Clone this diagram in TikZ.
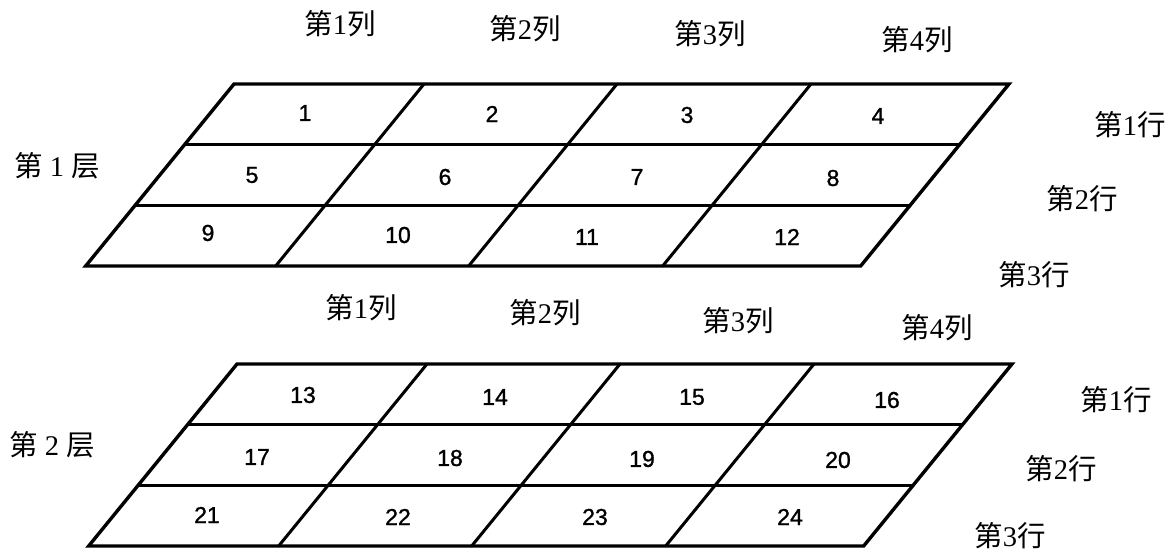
\documentclass[tikz,border=0pt]{standalone}
\usepackage{fontspec}
\setmainfont{Liberation Serif}
\newfontfamily\cjk{Noto Sans CJK SC}
\newfontfamily\numfont[FakeBold=1.2]{Liberation Sans}
\begin{document}
\begin{tikzpicture}[x=1pt,y=-1pt,
  gridline/.style={line width=3pt,line cap=round,line join=round},
  outline/.style={line width=3.4pt,line join=miter},
  num/.style={font=\numfont\fontsize{23}{26}\selectfont,inner sep=0pt},
  lbl/.style={font=\fontsize{28.5}{32}\selectfont,inner sep=0pt}]
\useasboundingbox (0,0) rectangle (1176,554);
% ---------- grids ----------
\foreach \T/\L in {84/234, 364/237}{
  \pgfmathsetmacro\s{-0.815}
  \foreach \yy in {60.5,121}{
    \draw[gridline] ({\L+\s*\yy},{\T+\yy}) -- ({\L+\s*\yy+775},{\T+\yy});
  }
  \foreach \c in {190,383,577}{
    \draw[gridline] ({\L+\c},\T) -- ({\L+\c+\s*182},{\T+182});
  }
  \draw[outline] (\L,\T) -- ({\L+775},\T) -- ({\L+775+\s*182},{\T+182}) -- ({\L+\s*182},{\T+182}) -- cycle;
}
% ---------- numbers ----------
\foreach \n/\x/\y in {1/305/113,2/492/114,3/687/115,4/878/116,
  5/252/175,6/445/177,7/637/177,8/833/178,
  9/208/233,10/398/235,11/587/237,12/787/237,
  13/303/395,14/495/397,15/692/397,16/887/400,
  17/257/457,18/450/458,19/642/459,20/838/460,
  21/207/515,22/398/517,23/595/517,24/790/517}{
  \node[num] (n\n) at (\x,\y) {\n};
}
% ---------- column labels ----------
\foreach \k/\x/\y in {1/340/24,2/525/29,3/710/34,4/917/40}{
  \node[lbl] (ca\k) at (\x,\y) {{\cjk 第}\k{\cjk 列}};
}
\foreach \k/\x/\y in {1/361/308,2/545/313,3/738/321,4/937/328}{
  \node[lbl] (cb\k) at (\x,\y) {{\cjk 第}\k{\cjk 列}};
}
% ---------- row labels ----------
\foreach \k/\x/\y in {1/1130/125,2/1082/199,3/1034/275}{
  \node[lbl] (ra\k) at (\x,\y) {{\cjk 第}\k{\cjk 行}};
}
\foreach \k/\x/\y in {1/1116/400,2/1061/469,3/1010/536}{
  \node[lbl] (rb\k) at (\x,\y) {{\cjk 第}\k{\cjk 行}};
}
% ---------- layer labels ----------
\node[lbl] (layer1) at (57,166) {{\cjk 第} 1 {\cjk 层}};
\node[lbl] (layer2) at (52,445) {{\cjk 第} 2 {\cjk 层}};
\end{tikzpicture}
\end{document}
